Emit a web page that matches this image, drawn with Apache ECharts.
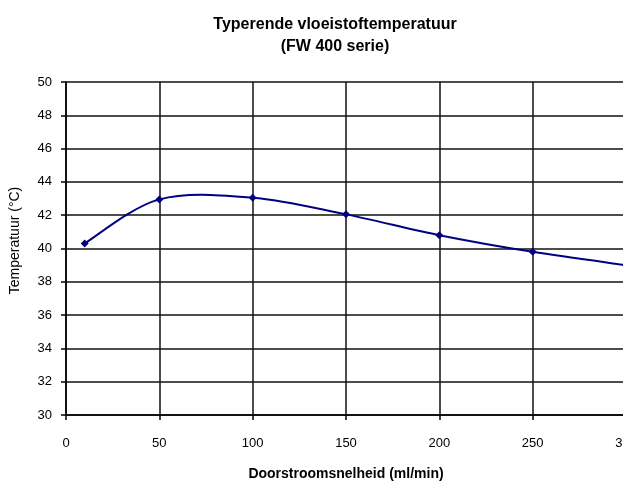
<!DOCTYPE html>
<html>
<head>
<meta charset="utf-8">
<script src="https://cdn.jsdelivr.net/npm/echarts@6/dist/echarts.min.js"></script>
<style>
  html, body { margin: 0; padding: 0; background: #fff; overflow: hidden; }
  #chart { width: 623px; height: 482px; }
</style>
</head>
<body>
<div id="chart"></div>
<script>
// Flow rate (ml/min) and typical fluid temperature (°C)
var flowRates = [10, 50, 100, 150, 200, 250, 300];
var temperatures = [40.3, 42.95, 43.05, 42.05, 40.8, 39.8, 39.0];

var xTicks = { min: 0, max: 300, interval: 50 };
var yTicks = { min: 30, max: 50, interval: 2 };

var FONT = '"Liberation Sans Narrow", "Liberation Sans", Arial, sans-serif';
var LINE_COLOR = '#000080';

var points = flowRates.map(function (x, i) { return [x, temperatures[i]]; });

// One cubic Bezier per segment, Catmull-Rom style (tangent = (next - prev) / 6),
// computed in pixel space from the axis-mapped data points.
function renderSegment(params, api) {
  var i = params.dataIndex;
  var n = points.length;
  function px(k) {
    k = Math.max(0, Math.min(n - 1, k));
    return api.coord(points[k]);
  }
  var p0 = px(i - 1), p1 = px(i), p2 = px(i + 1), p3 = px(i + 2);
  return {
    type: 'bezierCurve',
    shape: {
      x1: p1[0], y1: p1[1],
      x2: p2[0], y2: p2[1],
      cpx1: p1[0] + (p2[0] - p0[0]) / 6,
      cpy1: p1[1] + (p2[1] - p0[1]) / 6,
      cpx2: p2[0] - (p3[0] - p1[0]) / 6,
      cpy2: p2[1] - (p3[1] - p1[1]) / 6
    },
    style: { stroke: LINE_COLOR, lineWidth: 2, fill: null }
  };
}

var chart = echarts.init(document.getElementById('chart'), null, { renderer: 'canvas' });

chart.setOption({
  animation: false,
  backgroundColor: '#ffffff',
  title: {
    text: 'Typerende vloeistoftemperatuur\n(FW 400 serie)',
    left: 330,
    top: 9,
    textAlign: 'center',
    textStyle: {
      fontFamily: FONT,
      fontWeight: 'bold',
      fontSize: 16,
      lineHeight: 22,
      color: '#000'
    }
  },
  grid: {
    left: 66,
    top: 82,
    width: 560,
    height: 333,
    outerBoundsMode: 'none',
    containLabel: false
  },
  xAxis: {
    type: 'value',
    min: xTicks.min,
    max: xTicks.max,
    interval: xTicks.interval,
    name: 'Doorstroomsnelheid (ml/min)',
    nameLocation: 'middle',
    nameGap: 52,
    nameTextStyle: { fontFamily: FONT, fontSize: 14, fontWeight: 'bold', color: '#000' },
    axisLine: { show: true, onZero: false, lineStyle: { color: '#000', width: 1.5 } },
    axisTick: { show: true, length: 5, lineStyle: { color: '#000', width: 1.5 } },
    axisLabel: { margin: 22, fontFamily: FONT, fontSize: 13, color: '#000' },
    splitLine: { show: true, lineStyle: { color: '#111', width: 1.5 } }
  },
  yAxis: {
    type: 'value',
    min: yTicks.min,
    max: yTicks.max,
    interval: yTicks.interval,
    name: 'Temperatuur (°C)',
    nameLocation: 'middle',
    nameGap: 44,
    nameRotate: 90,
    nameTextStyle: { fontFamily: FONT, fontSize: 14, color: '#000', padding: [0, 0, 0, 16] },
    axisLine: { show: true, lineStyle: { color: '#000', width: 1.5 } },
    axisTick: { show: true, length: 5, lineStyle: { color: '#000', width: 1.5 } },
    axisLabel: { margin: 14, fontFamily: FONT, fontSize: 13, color: '#000' },
    splitLine: { show: true, lineStyle: { color: '#111', width: 1.5 } }
  },
  series: [
    {
      type: 'custom',
      name: 'curve',
      data: points.slice(0, -1),
      encode: { x: 0, y: 1 },
      renderItem: renderSegment,
      clip: false,
      silent: true
    },
    {
      type: 'scatter',
      name: 'points',
      data: points,
      symbol: 'diamond',
      symbolSize: 8,
      itemStyle: { color: LINE_COLOR, opacity: 1 },
      clip: false,
      z: 3
    }
  ]
});
</script>
</body>
</html>
